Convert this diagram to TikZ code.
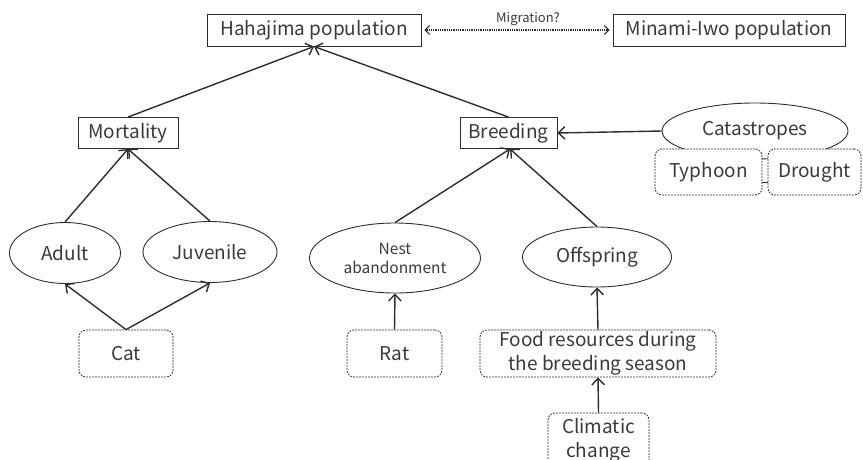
\documentclass[tikz,border=0pt]{standalone}
\usepackage{fontspec}
\setmainfont{Noto Sans CJK JP}
\usetikzlibrary{arrows.meta,shapes.geometric}
\definecolor{txt}{HTML}{3A3A3A}
\definecolor{ln}{HTML}{2E2E2E}
\begin{document}
\begin{tikzpicture}[x=1pt,y=-1pt,
  every node/.style={text=txt,font=\fontsize{19}{22}\selectfont,inner sep=0pt,align=center},
  pbox/.style={draw=ln,line width=0.9pt,rectangle},
  dbox/.style={draw=ln,line width=0.8pt,dash pattern=on 1.8pt off 1.2pt,rounded corners=7pt,rectangle},
  ell/.style={draw=ln,line width=0.9pt,ellipse},
  arr/.style={draw=ln,line width=1.4pt,-{Straight Barb[length=6.5pt,width=12.5pt,line width=1.4pt]}}
]
\useasboundingbox (0,0) rectangle (863,459);

\node[pbox,minimum width=214pt,minimum height=32pt] (haha) at (314,30) {Hahajima population};
\node[pbox,minimum width=232pt,minimum height=32pt] (mini) at (729,30) {Minami-Iwo population};

\node[pbox,minimum width=100pt,minimum height=31pt] (mort) at (128,133) {Mortality};
\node[pbox,minimum width=97pt,minimum height=31pt] (breed) at (508.5,133) {Breeding};

\node[ell,minimum width=186pt,minimum height=56pt] (cata) at (755,131) {Catastropes};
\node[dbox,fill=white,minimum width=107pt,minimum height=46pt] (typh) at (708.5,172) {Typhoon};
\node[dbox,fill=white,minimum width=93pt,minimum height=46pt] (drou) at (814.5,172) {Drought};

\node[ell,minimum width=111pt,minimum height=61pt] (adult) at (65,253) {Adult};
\node[ell,minimum width=134pt,minimum height=61pt] (juv) at (210,252) {Juvenile};
\node[dbox,minimum width=94pt,minimum height=47pt] (cat) at (126,353.5) {Cat};

\node[ell,minimum width=171pt,minimum height=70pt,font=\fontsize{15.5}{19}\selectfont] (nest) at (395,258) {Nest\\abandonment};
\node[ell,minimum width=149pt,minimum height=60pt] (off) at (597,257) {Offspring};
\node[dbox,minimum width=95pt,minimum height=47pt] (rat) at (394.5,353.5) {Rat};
\node[dbox,minimum width=236pt,minimum height=47pt,font=\fontsize{19}{24}\selectfont] (food) at (598,353.5) {Food resources during\\the breeding season};
\node[dbox,minimum width=101pt,minimum height=54pt,font=\fontsize{19}{24}\selectfont] (clim) at (598.5,440) {Climatic\\change};

% connectors
\coordinate (hb) at (314,46.5);
\coordinate (mb) at (128,149);
\coordinate (bb) at (510,149);
\draw[arr] (mort.north) -- (hb);
\draw[arr] (breed.north) -- (hb);
\draw[arr] (adult.north) -- (mb);
\draw[arr] (juv.north) -- (mb);
\draw[arr] (cat.north) -- (adult.south);
\draw[arr] (cat.north) -- (juv.south);
\draw[arr] (nest.north) -- (bb);
\draw[arr] (off.north) -- (bb);
\draw[arr] (cata.west) -- (breed.east);
\draw[arr] (rat.north) -- (nest.south);
\draw[arr] (food.north) -- (off.south);
\draw[arr] (clim.north) -- (food.south);
\draw[line width=0.8pt,ln] ([yshift=-10pt]typh.east) -- ([yshift=-10pt]drou.west);

\draw[line width=1.1pt,dash pattern=on 0.9pt off 0.9pt,ln,{Straight Barb[length=4.5pt,width=9pt,line width=1pt]}-{Straight Barb[length=4.5pt,width=9pt,line width=1pt]}] ([xshift=3pt]haha.east) -- ([xshift=-3pt]mini.west);
\node[font=\fontsize{13}{15}\selectfont] (mig) at (528,19) {Migration?};
\end{tikzpicture}
\end{document}
